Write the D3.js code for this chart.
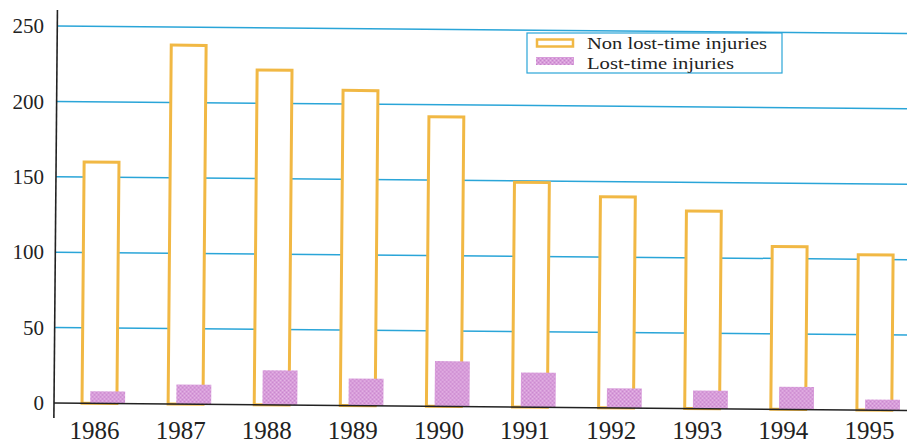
<!DOCTYPE html>
<html>
<head>
<meta charset="utf-8">
<script src="https://cdn.jsdelivr.net/npm/d3@7"></script>
<style>
  html, body { margin: 0; padding: 0; background: #ffffff; }
  svg { display: block; }
</style>
</head>
<body>
<svg id="chart" width="907" height="447"></svg>
<script>
// Injury counts per year
const years = ["1986", "1987", "1988", "1989", "1990", "1991", "1992", "1993", "1994", "1995"];
const nonLostTime = [160, 238, 222, 209, 192, 149, 140, 131, 108, 103];
const lostTime = [8, 13, 23, 18, 30, 23, 13, 12, 15, 7];
const yTicks = [0, 50, 100, 150, 200, 250];
const seriesNames = ["Non lost-time injuries", "Lost-time injuries"];

const W = 907, H = 447;
const axisX = 54, zeroY = 403;

const svg = d3.select("#chart");

// Speckled fill for the lost-time bars
const defs = svg.append("defs");
const pat = defs.append("pattern")
  .attr("id", "speckle").attr("patternUnits", "userSpaceOnUse")
  .attr("width", 4).attr("height", 4);
pat.append("rect").attr("width", 4).attr("height", 4).attr("fill", "#d89cda");
pat.append("rect").attr("x", 0).attr("y", 0).attr("width", 1).attr("height", 1).attr("fill", "#c585cb");
pat.append("rect").attr("x", 2).attr("y", 2).attr("width", 1).attr("height", 1).attr("fill", "#c585cb");
pat.append("rect").attr("x", 2).attr("y", 0).attr("width", 1).attr("height", 1).attr("fill", "#e6bce7");
pat.append("rect").attr("x", 0).attr("y", 2).attr("width", 1).attr("height", 1).attr("fill", "#e6bce7");

const y = d3.scaleLinear().domain([0, 250]).range([zeroY, 26]);
const x = d3.scaleBand().domain(years)
  .range([60.5, 921.5]).paddingInner(0.5).paddingOuter(0.25);

const bw = x.bandwidth();
const outlineW = bw * 0.81;
const lostOff = bw * 0.19;

// Plot body, printed with a slight tilt
const plot = svg.append("g")
  .attr("transform", `rotate(0.5, ${axisX}, ${zeroY})`);

// Horizontal grid lines
plot.append("g").selectAll("line")
  .data(yTicks.filter(d => d > 0))
  .join("line")
  .attr("x1", axisX).attr("x2", W + 30)
  .attr("y1", d => y(d)).attr("y2", d => y(d))
  .attr("stroke", "#2aa5d8").attr("stroke-width", 1.5);

// Non lost-time bars: white with an orange outline
plot.append("g").selectAll("rect")
  .data(years.map((yr, i) => ({ yr, v: nonLostTime[i] })))
  .join("rect")
  .attr("x", d => x(d.yr))
  .attr("y", d => y(d.v))
  .attr("width", outlineW)
  .attr("height", d => y(0) - y(d.v))
  .attr("fill", "#ffffff")
  .attr("stroke", "#f1b844").attr("stroke-width", 3);

// Lost-time bars
plot.append("g").selectAll("rect")
  .data(years.map((yr, i) => ({ yr, v: lostTime[i] })))
  .join("rect")
  .attr("x", d => x(d.yr) + lostOff)
  .attr("y", d => y(d.v))
  .attr("width", bw - lostOff)
  .attr("height", d => y(0) - y(d.v))
  .attr("fill", "url(#speckle)");

// Baseline and vertical axis
plot.append("line")
  .attr("x1", axisX).attr("x2", W + 30)
  .attr("y1", y(0)).attr("y2", y(0))
  .attr("stroke", "#222").attr("stroke-width", 1.6);
plot.append("line")
  .attr("x1", axisX).attr("x2", axisX)
  .attr("y1", 10).attr("y2", 418)
  .attr("stroke", "#222").attr("stroke-width", 1.6);

// Y tick labels
const yAxis = svg.append("g")
  .attr("transform", `translate(${axisX - 10},0)`)
  .call(d3.axisLeft(y).tickValues(yTicks).tickSize(0).tickPadding(0));
yAxis.select(".domain").remove();
yAxis.selectAll("text")
  .attr("font-family", "'Liberation Serif', 'DejaVu Serif', serif")
  .attr("font-size", 21).attr("fill", "#222");

// Year labels
const xAxis = svg.append("g")
  .attr("transform", `translate(-9,${zeroY + 18})`)
  .call(d3.axisBottom(x).tickSize(0).tickPadding(0));
xAxis.select(".domain").remove();
xAxis.selectAll("text")
  .attr("font-family", "'Liberation Serif', 'DejaVu Serif', serif")
  .attr("font-size", 25).attr("fill", "#222");

// Legend
const lg = svg.append("g");
lg.append("rect")
  .attr("x", 527).attr("y", 33).attr("width", 255).attr("height", 40)
  .attr("fill", "#ffffff").attr("stroke", "#2aa5d8").attr("stroke-width", 1.2);
lg.append("rect")
  .attr("x", 537).attr("y", 39.5).attr("width", 36).attr("height", 7)
  .attr("fill", "#ffffff").attr("stroke", "#f1b844").attr("stroke-width", 2.5);
lg.append("rect")
  .attr("x", 536).attr("y", 57).attr("width", 38).attr("height", 8)
  .attr("fill", "url(#speckle)");
const legendWidths = [180, 147];
lg.selectAll("text")
  .data(seriesNames)
  .join("text")
  .attr("x", 587)
  .attr("y", (d, i) => 49 + i * 19.5)
  .attr("font-family", "'Liberation Serif', 'DejaVu Serif', serif")
  .attr("font-size", 17).attr("fill", "#222")
  .attr("textLength", (d, i) => legendWidths[i])
  .attr("lengthAdjust", "spacingAndGlyphs")
  .text(d => d);
</script>
</body>
</html>
